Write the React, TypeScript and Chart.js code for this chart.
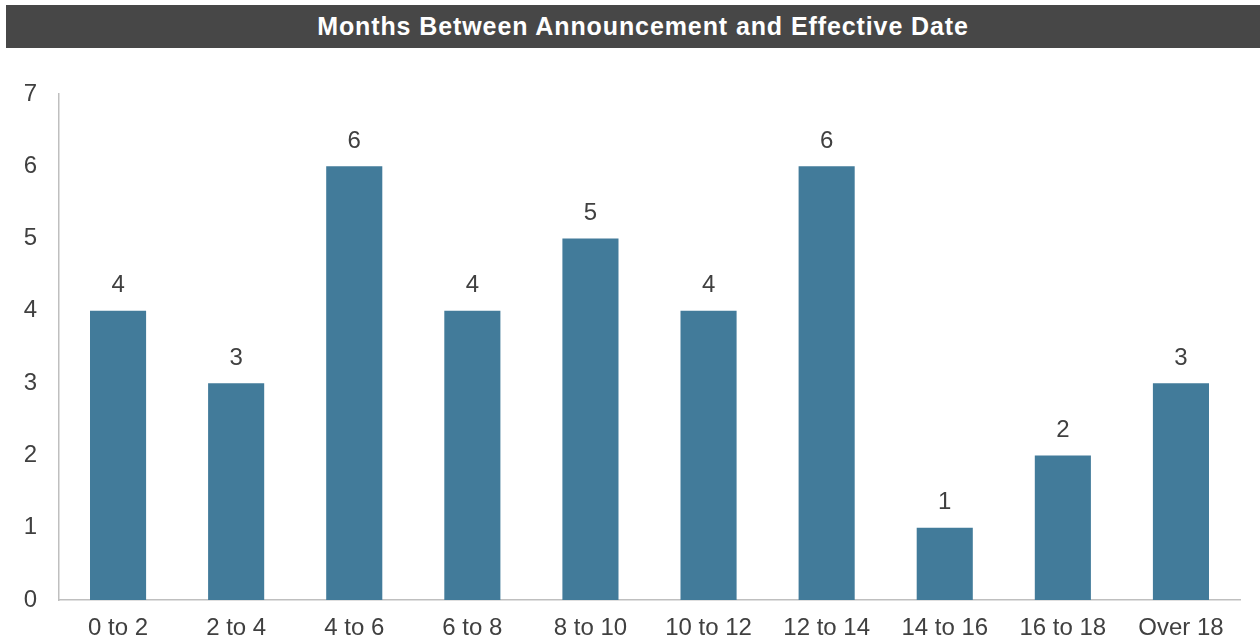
import React, { useEffect, useRef } from "react";
import { Chart, registerables } from "chart.js";

Chart.register(...registerables);

const titleText = "Months Between Announcement and Effective Date";
const categories = ["0 to 2", "2 to 4", "4 to 6", "6 to 8", "8 to 10", "10 to 12", "12 to 14", "14 to 16", "16 to 18", "Over 18"];
const counts = [4, 3, 6, 4, 5, 4, 6, 1, 2, 3];
const yTicks = [0, 1, 2, 3, 4, 5, 6, 7];

const FONT = "'Liberation Sans', Arial, Helvetica, sans-serif";
const TEXT_COLOR = "#404040";
const BAR_COLOR = "#427B9A";
const AXIS_COLOR = "#BFBFBF";

const valueLabels = {
  id: "valueLabels",
  afterDatasetsDraw(chart: any) {
    const ctx = chart.ctx;
    const meta = chart.getDatasetMeta(0);
    ctx.save();
    ctx.font = `24px ${FONT}`;
    ctx.fillStyle = TEXT_COLOR;
    ctx.textAlign = "center";
    ctx.textBaseline = "middle";
    meta.data.forEach((bar: any, i: number) => {
      const v = chart.data.datasets[0].data[i];
      ctx.fillText(String(v), bar.x, bar.y - 25);
    });
    ctx.restore();
  },
};

export default function App() {
  const ref = useRef<HTMLCanvasElement | null>(null);

  useEffect(() => {
    if (!ref.current) return;
    const chart = new Chart(ref.current, {
      type: "bar",
      data: {
        labels: categories,
        datasets: [
          {
            data: counts,
            backgroundColor: BAR_COLOR,
            borderWidth: 0,
            barPercentage: 0.475,
            categoryPercentage: 1,
          },
        ],
      },
      options: {
        animation: false,
        responsive: false,
        maintainAspectRatio: false,
        layout: { padding: { top: 94, right: 20, left: 0, bottom: 0 } },
        plugins: {
          legend: { display: false },
          title: { display: false },
          tooltip: { enabled: false },
        },
        scales: {
          x: {
            grid: { display: false, drawTicks: false },
            border: { display: true, color: AXIS_COLOR, width: 1.5 },
            ticks: {
              color: TEXT_COLOR,
              font: { family: FONT, size: 24 },
              padding: 14,
              maxRotation: 0,
              autoSkip: false,
            },
            afterFit(scale: any) {
              scale.height = 41;
            },
          },
          y: {
            min: 0,
            max: 7,
            grid: { display: false, drawTicks: false },
            border: { display: true, color: AXIS_COLOR, width: 1.5 },
            afterBuildTicks(scale: any) {
              scale.ticks = yTicks.map((v) => ({ value: v }));
            },
            ticks: {
              color: TEXT_COLOR,
              font: { family: FONT, size: 24 },
              padding: 22,
            },
            afterFit(scale: any) {
              scale.width = 59;
            },
          },
        },
      },
      plugins: [valueLabels],
    });
    return () => chart.destroy();
  }, []);

  return (
    <div style={{ position: "absolute", left: 0, top: 0, width: 1260, height: 641, background: "#fff", overflow: "hidden" }}>
      <canvas ref={ref} width={1260} height={641} style={{ position: "absolute", left: 0, top: 0, width: 1260, height: 641 }} />
      <div
        style={{
          position: "absolute",
          left: 6,
          top: 5,
          width: 1234,
          height: 43,
          paddingLeft: 20,
          background: "#474747",
          color: "#ffffff",
          fontFamily: FONT,
          fontWeight: "bold",
          fontSize: 25,
          letterSpacing: 0.9,
          lineHeight: "43px",
          textAlign: "center",
          whiteSpace: "nowrap",
        }}
      >
        {titleText}
      </div>
    </div>
  );
}
